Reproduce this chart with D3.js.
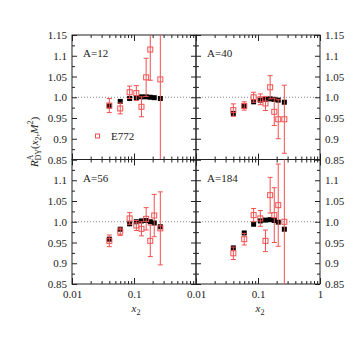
<!DOCTYPE html>
<html>
<head>
<meta charset="utf-8">
<script src="https://cdn.jsdelivr.net/npm/d3@7"></script>
<style>
  body { margin: 0; background: #fff; }
  text { font-family: "Liberation Serif", "Times New Roman", serif; fill: #222; }
</style>
</head>
<body>
<div id="chart"></div>
<script>
// x2 bins (shared by theory and E772 points)
var xBins = [0.040, 0.060, 0.085, 0.109, 0.132, 0.157, 0.183, 0.212, 0.266];

var panelNames = ["A=12", "A=40", "A=56", "A=184"];

// theory curves (black squares)
var th12  = [0.979, 0.990, 0.997, 0.999, 1.001, 1.001, 1.000, 0.999, 0.997];
var th40  = [0.961, 0.979, 0.989, 0.993, 0.995, 0.996, 0.995, 0.993, 0.988];
var th56  = [0.958, 0.982, 0.995, 1.000, 1.002, 1.003, 1.000, 0.997, 0.988];
var th184 = [0.937, 0.973, 0.994, 1.002, 1.004, 1.005, 1.003, 0.999, 0.982];

// E772 data (red open squares)
var e12x    = [0.040, 0.060, 0.085, 0.109, 0.132, 0.157, 0.183, 0.266];
var e12     = [0.980, 0.973, 1.012, 1.010, 0.977, 1.048, 1.115, 1.043];
var e12err  = [0.017, 0.013, 0.015, 0.018, 0.024, 0.046, 0.074, 0.350];
var e40     = [0.969, 0.979, 1.000, 0.995, 0.985, 1.024, 0.965, 0.947, 0.947];
var e40err  = [0.015, 0.010, 0.012, 0.013, 0.017, 0.028, 0.033, 0.047, 0.082];
var e56     = [0.954, 0.976, 1.008, 0.991, 0.983, 1.007, 0.954, 1.015, 0.984];
var e56err  = [0.014, 0.009, 0.014, 0.012, 0.017, 0.027, 0.038, 0.051, 0.088];
var e184    = [0.924, 0.958, 1.016, 1.008, 0.954, 1.064, 1.016, 1.040, 1.000];
var e184err = [0.015, 0.014, 0.016, 0.019, 0.026, 0.043, 0.066, 0.099, 0.350];

var yLabelVals = [1.15, 1.1, 1.05, 1.0, 0.95, 0.9, 0.85];
var yLabelText = ["1.15", "1.1", "1.05", "1.0", "0.95", "0.9", "0.85"];
var xLabelVals = [0.01, 0.1, 1];
var xLabelText = ["0.01", "0.1", "1"];

var w = 355, h = 338;
var pw = 124, ph = 124.5;
var padL = 72, padT = 35;

var red = "#f35050";

var x = d3.scaleLog().domain([0.01, 1]).range([0, pw]);
var y = d3.scaleLinear().domain([0.85, 1.15]).range([ph, 0]);

var svg = d3.select("#chart").append("svg")
    .attr("width", w)
    .attr("height", h);

var panels = [
  {name: panelNames[0], col: 0, row: 0, th: th12,  ex: e12x,  ey: e12,  ee: e12err},
  {name: panelNames[1], col: 1, row: 0, th: th40,  ex: xBins, ey: e40,  ee: e40err},
  {name: panelNames[2], col: 0, row: 1, th: th56,  ex: xBins, ey: e56,  ee: e56err},
  {name: panelNames[3], col: 1, row: 1, th: th184, ex: xBins, ey: e184, ee: e184err}
];

var yMajor = d3.range(0, 7).map(function(i) { return 0.85 + i * 0.05; });
var yMinor = d3.range(0, 6).map(function(i) { return 0.875 + i * 0.05; });
var xMajor = [0.01, 0.1, 1];
var xMinor = [];
[0.01, 0.1].forEach(function(d) {
  for (var k = 2; k <= 9; k++) xMinor.push(d * k);
});

function noDomain(g) { g.select(".domain").remove(); }

panels.forEach(function(p, idx) {
  var x0 = padL + p.col * pw, y0 = padT + p.row * ph;
  var g = svg.append("g").attr("transform", "translate(" + x0 + "," + y0 + ")");

  g.append("clipPath").attr("id", "clip" + idx)
    .append("rect").attr("width", pw).attr("height", ph);

  // dotted line at 1.0
  g.append("line")
    .attr("x1", 0).attr("x2", pw)
    .attr("y1", y(1)).attr("y2", y(1))
    .attr("stroke", "#888")
    .attr("stroke-dasharray", "1,2");

  // ticks, all four sides, pointing inward
  var tickStyle = function(sel) {
    sel.call(noDomain);
    sel.selectAll("line").attr("stroke", "#222");
  };
  g.append("g").call(d3.axisRight(y).tickValues(yMajor).tickSize(5).tickFormat("")).call(tickStyle);
  g.append("g").call(d3.axisRight(y).tickValues(yMinor).tickSize(3).tickFormat("")).call(tickStyle);
  g.append("g").attr("transform", "translate(" + pw + ",0)")
    .call(d3.axisLeft(y).tickValues(yMajor).tickSize(5).tickFormat("")).call(tickStyle);
  g.append("g").attr("transform", "translate(" + pw + ",0)")
    .call(d3.axisLeft(y).tickValues(yMinor).tickSize(3).tickFormat("")).call(tickStyle);
  g.append("g").call(d3.axisBottom(x).tickValues(xMajor).tickSize(6).tickFormat("")).call(tickStyle);
  g.append("g").call(d3.axisBottom(x).tickValues(xMinor).tickSize(3).tickFormat("")).call(tickStyle);
  g.append("g").attr("transform", "translate(0," + ph + ")")
    .call(d3.axisTop(x).tickValues(xMajor).tickSize(6).tickFormat("")).call(tickStyle);
  g.append("g").attr("transform", "translate(0," + ph + ")")
    .call(d3.axisTop(x).tickValues(xMinor).tickSize(3).tickFormat("")).call(tickStyle);

  // frame
  g.append("rect")
    .attr("x", 0).attr("y", 0)
    .attr("width", pw).attr("height", ph)
    .attr("fill", "none").attr("stroke", "#222").attr("stroke-width", 1);

  // y tick labels
  var lv = [], lt = [];
  yLabelVals.forEach(function(v, i) {
    if (p.row === 1 && i === 0) return;
    lv.push(v); lt.push(yLabelText[i]);
  });
  var yAx = (p.col === 0 ? d3.axisLeft(y) : d3.axisRight(y))
    .tickValues(lv).tickSize(0).tickPadding(5)
    .tickFormat(function(d, i) { return lt[i]; });
  g.append("g")
    .attr("transform", p.col === 0 ? null : "translate(" + pw + ",0)")
    .call(yAx).call(noDomain)
    .selectAll("text").style("font-size", "11px").style("font-family", "Liberation Serif");

  // x tick labels
  if (p.row === 1) {
    var xv = p.col === 0 ? xLabelVals.slice(0, 2) : xLabelVals;
    g.append("g")
      .attr("transform", "translate(0," + ph + ")")
      .call(d3.axisBottom(x).tickValues(xv).tickSize(0).tickPadding(6)
        .tickFormat(function(d, i) { return xLabelText[i]; }))
      .call(noDomain)
      .selectAll("text").style("font-size", "11px").style("font-family", "Liberation Serif");

    var xl = g.append("text")
      .attr("x", pw / 2 + 2).attr("y", ph + 28)
      .attr("text-anchor", "middle")
      .style("font-size", "11px");
    xl.append("tspan").style("font-style", "italic").text("x");
    xl.append("tspan").attr("dy", 3).style("font-size", "8px").text("2");
  }

  // panel name
  g.append("text")
    .attr("x", 11).attr("y", 22)
    .style("font-size", "11px")
    .text(p.name);

  var data = g.append("g").attr("clip-path", "url(#clip" + idx + ")");

  // theory: black squares
  data.selectAll(".th").data(p.th).enter().append("rect")
    .attr("class", "th")
    .attr("x", function(d, i) { return x(xBins[i]) - 2.5; })
    .attr("y", function(d) { return y(d) - 2.5; })
    .attr("width", 5).attr("height", 5)
    .attr("fill", "#000");

  // E772: error bars + open squares
  var ex = p.ex;
  var eb = data.selectAll(".eb").data(p.ey).enter().append("g").attr("class", "eb");
  eb.append("line")
    .attr("x1", function(d, i) { return x(ex[i]); })
    .attr("x2", function(d, i) { return x(ex[i]); })
    .attr("y1", function(d, i) { return y(d + p.ee[i]); })
    .attr("y2", function(d, i) { return y(d - p.ee[i]); })
    .attr("stroke", red).attr("stroke-width", 1);
  [1, -1].forEach(function(s) {
    eb.append("line")
      .attr("x1", function(d, i) { return x(ex[i]) - 2.5; })
      .attr("x2", function(d, i) { return x(ex[i]) + 2.5; })
      .attr("y1", function(d, i) { return y(d + s * p.ee[i]); })
      .attr("y2", function(d, i) { return y(d + s * p.ee[i]); })
      .attr("stroke", red).attr("stroke-width", 1);
  });
  eb.append("rect")
    .attr("x", function(d, i) { return x(ex[i]) - 2.5; })
    .attr("y", function(d) { return y(d) - 2.5; })
    .attr("width", 5).attr("height", 5)
    .attr("fill", "none").attr("stroke", red).attr("stroke-width", 1);

  // legend in the first panel
  if (idx === 0) {
    g.append("rect")
      .attr("x", 23.5).attr("y", 99)
      .attr("width", 4).attr("height", 4)
      .attr("fill", "none").attr("stroke", red);
    g.append("text")
      .attr("x", 39).attr("y", 105)
      .style("font-size", "11px")
      .text("E772");
  }
});

// y axis title
var yt = svg.append("text")
  .attr("transform", "translate(38,142) rotate(-90)")
  .attr("text-anchor", "middle")
  .style("font-size", "11px");
yt.append("tspan").style("font-style", "italic").text("R");
yt.append("tspan").attr("dy", -5).style("font-size", "8px").text("A");
yt.append("tspan").attr("dx", -6).attr("dy", 8).style("font-size", "8px").text("DY");
yt.append("tspan").attr("dy", -3).text("(");
yt.append("tspan").style("font-style", "italic").text("x");
yt.append("tspan").attr("dy", 3).style("font-size", "8px").text("2");
yt.append("tspan").attr("dy", -3).text(",");
yt.append("tspan").style("font-style", "italic").text("M");
yt.append("tspan").attr("dy", -5).style("font-size", "8px").text("2");
yt.append("tspan").attr("dy", 5).text(")");
</script>
</body>
</html>
